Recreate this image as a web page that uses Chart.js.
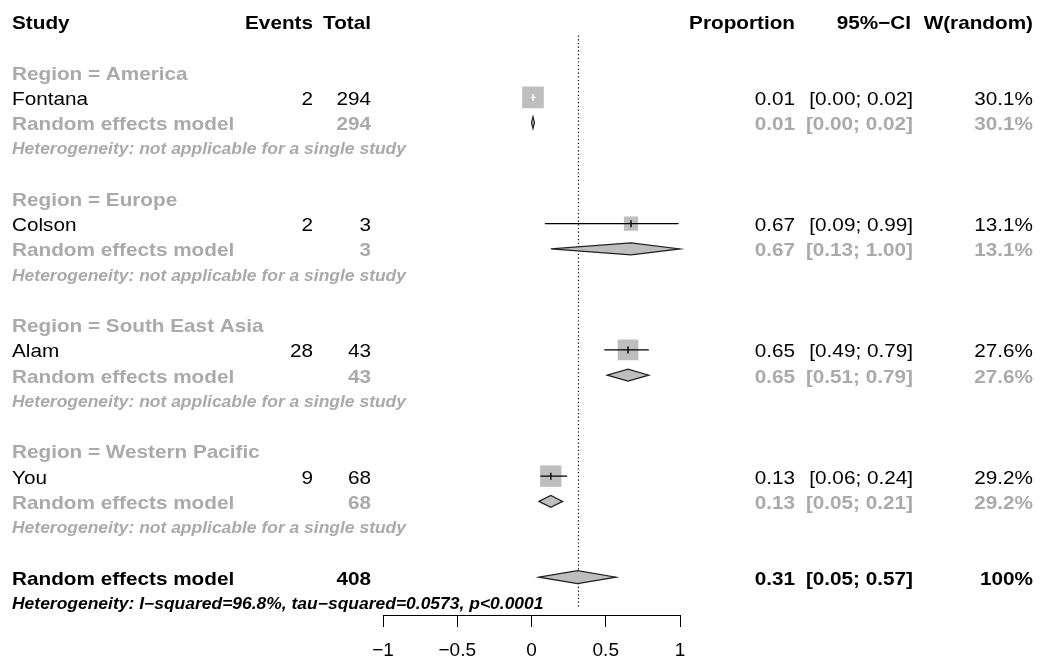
<!DOCTYPE html>
<html>
<head>
<meta charset="utf-8">
<script src="https://cdn.jsdelivr.net/npm/chart.js@4.4.0/dist/chart.umd.min.js"></script>
<style>
  html, body { margin: 0; padding: 0; background: #fff; }
  #wrap { width: 1041px; height: 664px; }
</style>
</head>
<body>
<div id="wrap"><canvas id="forest" width="1041" height="664"></canvas></div>
<script>
// study level data
const regions = ["America", "Europe", "South East Asia", "Western Pacific"];
const studies = ["Fontana", "Colson", "Alam", "You"];
const events = [2, 2, 28, 9];
const totals = [294, 3, 43, 68];
const proportions = [0.01, 0.67, 0.65, 0.13];
const ciLower = [0.00, 0.09, 0.49, 0.06];
const ciUpper = [0.02, 0.99, 0.79, 0.24];
const weights = [30.1, 13.1, 27.6, 29.2];

// subgroup random effects (one study each)
const subProp = [0.01, 0.67, 0.65, 0.13];
const subLower = [0.00, 0.13, 0.51, 0.05];
const subUpper = [0.02, 1.00, 0.79, 0.21];

// overall random effects: estimate, lower, upper
const overall = [0.31, 0.05, 0.57];
const overallTotal = 408;
const overallHet = "Heterogeneity: I\u2212squared=96.8%, tau\u2212squared=0.0573, p<0.0001";
const singleHet = "Heterogeneity: not applicable for a single study";

const xTicks = [-1, -0.5, 0, 0.5, 1];

// row layout (y axis value of each line of the table)
const headerRow = 0;
const regionRow = i => 2 + 5 * i;
const studyRow = i => 3 + 5 * i;
const remRow = i => 4 + 5 * i;
const hetRow = i => 5 + 5 * i;
const overallRow = 22;
const overallHetRow = 23;

const FAM = '"Liberation Sans", Arial, Helvetica, sans-serif';
const FS = 18.5;
const FS_HET = 15.6;
const SX = 1.12; // text is a bit wide in the original
const GREY = "#aaaaaa";
const BOX = "#bebebe";
const COL = { study: 12, events: 313, total: 371, prop: 795, ci: 913, ciHead: 911, w: 1033 };

const f2 = v => v.toFixed(2);
const ciText = (lo, hi) => "[" + f2(lo) + "; " + f2(hi) + "]";
const boxSide = w => 3.95 * Math.sqrt(w);

function txt(ctx, s, x, y, align, font, color) {
  ctx.save();
  ctx.font = font;
  ctx.fillStyle = color;
  ctx.textAlign = align;
  ctx.textBaseline = "alphabetic";
  ctx.translate(x, y);
  ctx.scale(SX, 1);
  ctx.fillText(s, 0, 0);
  ctx.restore();
}

function diamond(ctx, xs, ys, est, lo, hi, row, hh) {
  const y = ys.getPixelForValue(row);
  ctx.save();
  ctx.beginPath();
  ctx.moveTo(xs.getPixelForValue(lo), y);
  ctx.lineTo(xs.getPixelForValue(est), y - hh);
  ctx.lineTo(xs.getPixelForValue(hi), y);
  ctx.lineTo(xs.getPixelForValue(est), y + hh);
  ctx.closePath();
  ctx.fillStyle = BOX;
  ctx.fill();
  ctx.strokeStyle = "#222";
  ctx.lineWidth = 1.2;
  ctx.stroke();
  ctx.restore();
}

const forestPlugin = {
  id: "forest",
  beforeDatasetsDraw(chart) {
    const { ctx, scales: { x, y } } = chart;
    // reference line at overall estimate
    ctx.save();
    ctx.strokeStyle = "#000";
    ctx.lineWidth = 1.2;
    ctx.setLineDash([1.2, 2.5]);
    ctx.beginPath();
    const px = Math.round(x.getPixelForValue(overall[0])) + 0.5;
    ctx.moveTo(px, y.getPixelForValue(0.55));
    ctx.lineTo(px, y.getPixelForValue(23.25));
    ctx.stroke();
    ctx.restore();
  },
  afterDatasetsDraw(chart) {
    const { ctx, scales: { x, y } } = chart;
    // confidence intervals over the boxes
    studies.forEach((s, i) => {
      const py = y.getPixelForValue(studyRow(i));
      const pe = x.getPixelForValue(proportions[i]);
      const pl = x.getPixelForValue(ciLower[i]);
      const pu = x.getPixelForValue(ciUpper[i]);
      const half = boxSide(weights[i]) / 2;
      const inside = pl >= pe - half && pu <= pe + half;
      ctx.save();
      ctx.strokeStyle = inside ? "#fff" : "#000";
      ctx.lineWidth = 1.4;
      ctx.beginPath();
      ctx.moveTo(pl, py);
      ctx.lineTo(inside ? Math.max(pu, pl + 4) : pu, py);
      ctx.moveTo(pe, py - 3.5);
      ctx.lineTo(pe, py + 3.5);
      ctx.stroke();
      ctx.restore();
    });
    // subgroup diamonds
    regions.forEach((r, i) => diamond(ctx, x, y, subProp[i], subLower[i], subUpper[i], remRow(i), 6));
    diamond(ctx, x, y, overall[0], overall[1], overall[2], overallRow, 6.5);
  },
  afterDraw(chart) {
    const { ctx, scales: { y } } = chart;
    const base = (row, fs) => y.getPixelForValue(row) + 0.358 * fs + 1;
    const reg = FS + "px " + FAM;
    const bold = "bold " + FS + "px " + FAM;
    const het = "italic bold " + FS_HET + "px " + FAM;

    // header
    let b = base(headerRow, FS);
    txt(ctx, "Study", COL.study, b, "left", bold, "#000");
    txt(ctx, "Events", COL.events, b, "right", bold, "#000");
    txt(ctx, "Total", COL.total, b, "right", bold, "#000");
    txt(ctx, "Proportion", COL.prop, b, "right", bold, "#000");
    txt(ctx, "95%\u2212CI", COL.ciHead, b, "right", bold, "#000");
    txt(ctx, "W(random)", COL.w, b, "right", bold, "#000");

    regions.forEach((r, i) => {
      txt(ctx, "Region = " + r, COL.study, base(regionRow(i), FS), "left", bold, GREY);

      b = base(studyRow(i), FS);
      txt(ctx, studies[i], COL.study, b, "left", reg, "#000");
      txt(ctx, String(events[i]), COL.events, b, "right", reg, "#000");
      txt(ctx, String(totals[i]), COL.total, b, "right", reg, "#000");
      txt(ctx, f2(proportions[i]), COL.prop, b, "right", reg, "#000");
      txt(ctx, ciText(ciLower[i], ciUpper[i]), COL.ci, b, "right", reg, "#000");
      txt(ctx, weights[i].toFixed(1) + "%", COL.w, b, "right", reg, "#000");

      b = base(remRow(i), FS);
      txt(ctx, "Random effects model", COL.study, b, "left", bold, GREY);
      txt(ctx, String(totals[i]), COL.total, b, "right", bold, GREY);
      txt(ctx, f2(subProp[i]), COL.prop, b, "right", bold, GREY);
      txt(ctx, ciText(subLower[i], subUpper[i]), COL.ci, b, "right", bold, GREY);
      txt(ctx, weights[i].toFixed(1) + "%", COL.w, b, "right", bold, GREY);

      txt(ctx, singleHet, COL.study, base(hetRow(i), FS_HET), "left", het, GREY);
    });

    b = base(overallRow, FS);
    txt(ctx, "Random effects model", COL.study, b, "left", bold, "#000");
    txt(ctx, String(overallTotal), COL.total, b, "right", bold, "#000");
    txt(ctx, f2(overall[0]), COL.prop, b, "right", bold, "#000");
    txt(ctx, ciText(overall[1], overall[2]), COL.ci, b, "right", bold, "#000");
    txt(ctx, "100%", COL.w, b, "right", bold, "#000");
    txt(ctx, overallHet, COL.study, base(overallHetRow, FS_HET), "left", het, "#000");
  }
};

new Chart(document.getElementById("forest"), {
  type: "scatter",
  data: {
    datasets: [
      {
        label: "Studies",
        data: studies.map((s, i) => ({ x: proportions[i], y: studyRow(i) })),
        pointStyle: "rect",
        pointRadius: weights.map(w => boxSide(w) / Math.SQRT2),
        pointHoverRadius: weights.map(w => boxSide(w) / Math.SQRT2),
        backgroundColor: BOX,
        borderWidth: 0,
      },
    ],
  },
  options: {
    responsive: false,
    animation: false,
    devicePixelRatio: 1,
    layout: { autoPadding: false, padding: { left: 383, right: 361, top: 9, bottom: 0 } },
    plugins: { legend: { display: false }, tooltip: { enabled: false } },
    scales: {
      x: {
        type: "linear",
        min: -1,
        max: 1,
        afterBuildTicks: s => { s.ticks = xTicks.map(v => ({ value: v })); },
        afterFit: s => { s.height = 49; },
        ticks: {
          color: "#000",
          padding: 12.5,
          maxRotation: 0,
          font: { family: FAM, size: 19 },
          callback: v => (v < 0 ? "\u2212" + Math.abs(v) : String(v)),
        },
        grid: { drawOnChartArea: false, drawTicks: true, tickLength: 12, color: "#000", lineWidth: 1 },
        border: { display: true, color: "#000", width: 1 },
      },
      y: { type: "linear", reverse: true, min: -0.5, max: 23.5, display: false },
    },
  },
  plugins: [forestPlugin],
});
</script>
</body>
</html>
